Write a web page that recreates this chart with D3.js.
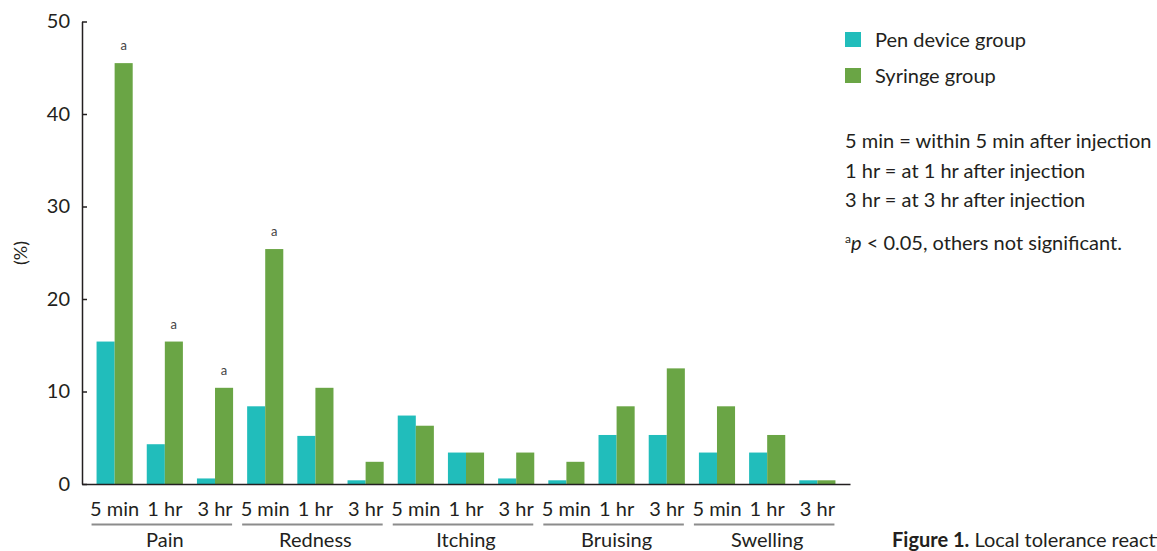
<!DOCTYPE html>
<html>
<head>
<meta charset="utf-8">
<script src="https://cdn.jsdelivr.net/npm/d3@7"></script>
<style>
  body { margin: 0; background: #fff; }
  svg { display: block; font-family: Lato, "Open Sans", sans-serif; }
</style>
</head>
<body>
<div id="chart"></div>
<script>
const categories = ['Pain', 'Redness', 'Itching', 'Bruising', 'Swelling']
const times = ['5 min', '1 hr', '3 hr']
const penValues = [15.4, 4.3, 0.6, 8.4, 5.2, 0.4, 7.4, 3.4, 0.6, 0.4, 5.3, 5.3, 3.4, 3.4, 0.4]
const syringeValues = [45.5, 15.4, 10.4, 25.4, 10.4, 2.4, 6.3, 3.4, 3.4, 2.4, 8.4, 12.5, 8.4, 5.3, 0.4]
const significant = [true, true, true, true, false, false, false, false, false, false, false, false, false, false, false]
const yTicks = [0, 10, 20, 30, 40, 50]
const seriesNames = ['Pen device group', 'Syringe group']
const notes = [
  '5 min = within 5 min after injection',
  '1 hr = at 1 hr after injection',
  '3 hr = at 3 hr after injection'
]

const colors = ['#21bdbb', '#6aa545']
const textColor = '#231f20'

const width = 1157
const height = 551

// one slot per category/time pair
const slots = []
categories.forEach((c, ci) => {
  times.forEach((t, ti) => {
    slots.push({ key: c + '|' + t, cat: c, time: t, i: ci * 3 + ti })
  })
})

const svg = d3.select('#chart').append('svg')
  .attr('width', width)
  .attr('height', height)

const y = d3.scaleLinear().domain([0, 50]).range([484, 21.5])
const x = d3.scaleBand()
  .domain(slots.map(d => d.key))
  .range([82, 850])
  .paddingInner(0.28)
  .paddingOuter(0.29)
const xs = d3.scaleBand().domain([0, 1]).range([0, x.bandwidth()])

// bars
const groups = svg.append('g').selectAll('g')
  .data(slots)
  .join('g')
  .attr('transform', d => `translate(${x(d.key)},0)`)

groups.selectAll('rect')
  .data(d => [penValues[d.i], syringeValues[d.i]])
  .join('rect')
  .attr('x', (v, j) => xs(j))
  .attr('width', xs.bandwidth())
  .attr('y', v => y(v))
  .attr('height', v => y(0) - y(v))
  .attr('fill', (v, j) => colors[j])

// significance marks
svg.append('g').selectAll('text')
  .data(slots.filter(d => significant[d.i]))
  .join('text')
  .attr('x', d => x(d.key) + xs(1) + xs.bandwidth() / 2)
  .attr('y', d => y(syringeValues[d.i]) - 13)
  .attr('text-anchor', 'middle')
  .attr('font-size', 13)
  .attr('fill', '#444')
  .text('a')

// y axis
const yAxis = svg.append('g')
  .attr('transform', 'translate(82,0)')
  .call(d3.axisLeft(y).tickValues(yTicks).tickSizeInner(-5).tickSizeOuter(0).tickPadding(12))
yAxis.select('.domain').attr('stroke', textColor).attr('stroke-width', 1.5)
yAxis.selectAll('.tick line').attr('stroke', textColor).attr('stroke-width', 1.5)
yAxis.selectAll('.tick text')
  .attr('font-size', 20)
  .attr('font-family', 'Lato, sans-serif')
  .attr('fill', textColor)

svg.append('text')
  .attr('transform', 'translate(27,253) rotate(-90)')
  .attr('text-anchor', 'middle')
  .attr('font-size', 18)
  .attr('fill', textColor)
  .text('(%)')

// x axis
const xAxis = svg.append('g')
  .attr('transform', `translate(0,${y(0)})`)
  .call(d3.axisBottom(x).tickSize(0).tickPadding(18).tickFormat(k => k.split('|')[1]))
xAxis.select('.domain').attr('stroke', textColor).attr('stroke-width', 1.5)
xAxis.selectAll('.tick text')
  .attr('font-size', 20)
  .attr('font-family', 'Lato, sans-serif')
  .attr('fill', textColor)

// category brackets
const cats = svg.append('g').selectAll('g')
  .data(categories)
  .join('g')
cats.append('line')
  .attr('x1', c => x(c + '|' + times[0]) - 5)
  .attr('x2', c => x(c + '|' + times[2]) + x.bandwidth() - 1)
  .attr('y1', 524.5)
  .attr('y2', 524.5)
  .attr('stroke', '#8c8c8c')
  .attr('stroke-width', 2)
cats.append('text')
  .attr('x', c => (x(c + '|' + times[0]) + x(c + '|' + times[2]) + x.bandwidth()) / 2)
  .attr('y', 547)
  .attr('text-anchor', 'middle')
  .attr('font-size', 20)
  .attr('fill', textColor)
  .text(c => c)

// legend
const legend = svg.append('g').selectAll('g')
  .data(seriesNames)
  .join('g')
  .attr('transform', (d, i) => `translate(845,${32 + i * 36})`)
legend.append('rect')
  .attr('width', 16)
  .attr('height', 15)
  .attr('fill', (d, i) => colors[i])
legend.append('text')
  .attr('x', 30)
  .attr('y', 15)
  .attr('font-size', 20)
  .attr('fill', textColor)
  .text(d => d)

svg.append('g').selectAll('text')
  .data(notes)
  .join('text')
  .attr('x', 845)
  .attr('y', (d, i) => 148 + i * 29.5)
  .attr('font-size', 20)
  .attr('fill', textColor)
  .text(d => d)

const foot = svg.append('text')
  .attr('x', 845)
  .attr('y', 250)
  .attr('font-size', 20)
  .attr('fill', textColor)
foot.append('tspan').attr('font-size', 12).attr('dy', -7).text('a')
foot.append('tspan').attr('font-style', 'italic').attr('dy', 7).text('p')
foot.append('tspan').text(' < 0.05, others not significant.')

// caption, runs off the right edge as in the source figure
const cap = svg.append('text')
  .attr('x', 892)
  .attr('y', 547)
  .attr('font-size', 20)
  .attr('fill', textColor)
cap.append('tspan').attr('font-weight', 'bold').text('Figure 1.')
cap.append('tspan').text(' Local tolerance reactions')
</script>
</body>
</html>
